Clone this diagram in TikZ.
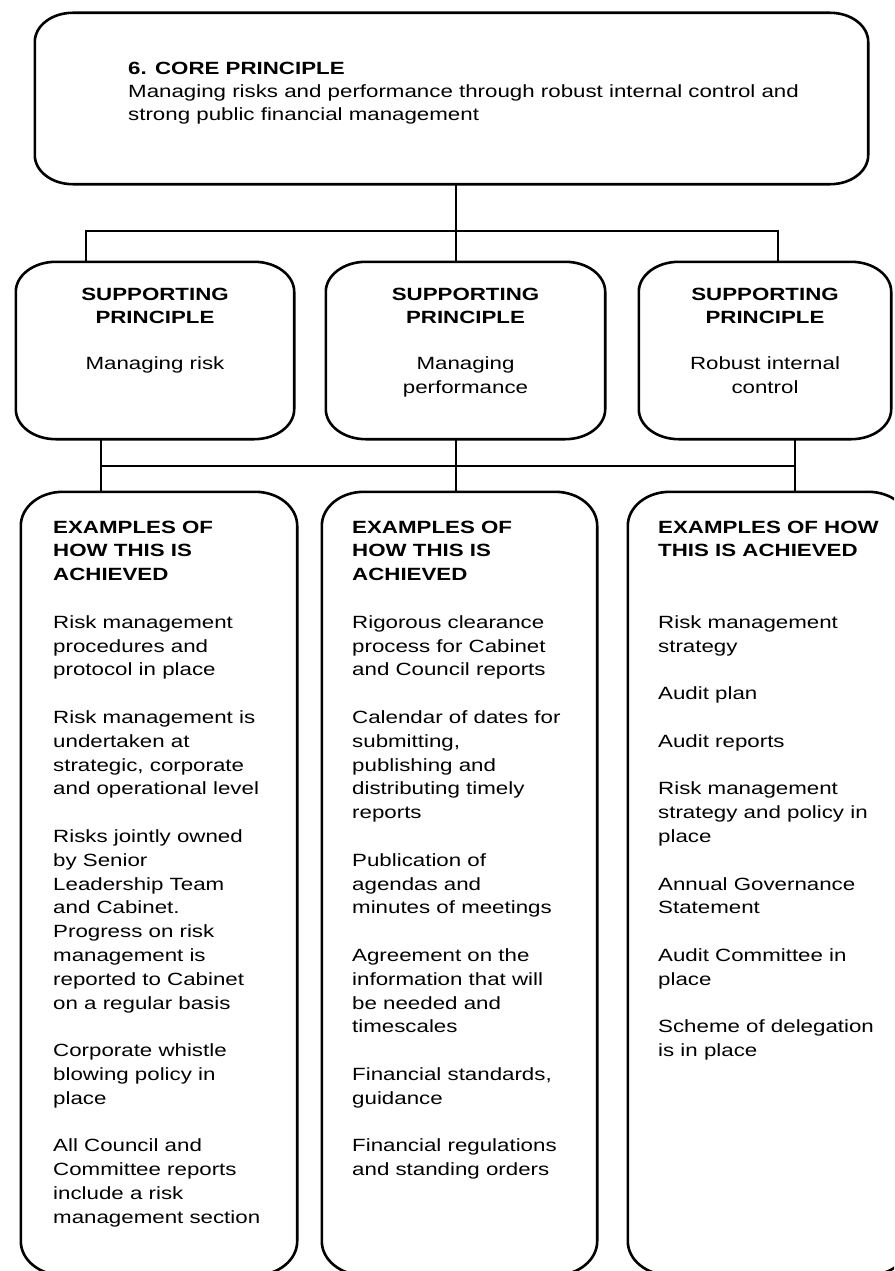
\documentclass[tikz,border=0pt]{standalone}
\usepackage{fontspec}
\setmainfont{Liberation Sans}[FakeStretch=1.26]

% rounded frame with elliptic corners around a named node
\newcommand\roundframe[3]{%
  \draw[frame] ([xshift=#2]#1.north west) -- ([xshift=-#2]#1.north east)
    arc[start angle=90,end angle=0,x radius=#2,y radius=#3]
    -- ([yshift=#3]#1.south east)
    arc[start angle=0,end angle=-90,x radius=#2,y radius=#3]
    -- ([xshift=#2]#1.south west)
    arc[start angle=-90,end angle=-180,x radius=#2,y radius=#3]
    -- ([yshift=-#3]#1.north west)
    arc[start angle=180,end angle=90,x radius=#2,y radius=#3]
    -- cycle;}

\begin{document}
\begin{tikzpicture}[x=1pt,y=-1pt,
  area/.style={rectangle, draw=none, inner sep=0pt},
  frame/.style={draw=black, line width=2.6pt},
  link/.style={draw=black, line width=1.2pt},
  txt/.style={inner sep=0pt, text=black,
    font=\fontsize{17.7pt}{23.3pt}\selectfont},
  coltxt/.style={txt, anchor=base west,
    font=\fontsize{17.7pt}{23.8pt}\selectfont}]

\useasboundingbox (0,0) rectangle (894,1271);
\clip (0,0) rectangle (894,1271);

% box areas
\node[area, minimum width=833pt, minimum height=171pt] (core) at (451.5,98.5) {};
\node[area, minimum width=278pt, minimum height=177pt] (sp1) at (155,350.5) {};
\node[area, minimum width=279pt, minimum height=177pt] (sp2) at (465.5,350.5) {};
\node[area, minimum width=252pt, minimum height=177pt] (sp3) at (765,350.5) {};
\node[area, minimum width=276pt, minimum height=783pt] (ex1) at (159,883.5) {};
\node[area, minimum width=275pt, minimum height=783pt] (ex2) at (459.5,883.5) {};
\node[area, minimum width=282pt, minimum height=783pt] (ex3) at (769,883.5) {};

% frames
\roundframe{core}{38pt}{29pt}
\roundframe{sp1}{40pt}{30pt}
\roundframe{sp2}{40pt}{30pt}
\roundframe{sp3}{40pt}{30pt}
\roundframe{ex1}{42pt}{34pt}
\roundframe{ex2}{42pt}{34pt}
\roundframe{ex3}{42pt}{34pt}

% connectors: core principle to supporting principles
\coordinate (trunk) at (456,231);
\coordinate (busAL) at (86,231);
\coordinate (busAR) at (778,231);
\draw[link] (core.south -| trunk) -- (sp2.north -| trunk);
\draw[link] (sp1.north -| busAL) -- (busAL) -- (busAR) -- (sp3.north -| busAR);

% connectors: supporting principles to examples
\coordinate (busBL) at (101,466);
\coordinate (busBM) at (456,466);
\coordinate (busBR) at (795,466);
\draw[link] (sp1.south -| busBL) -- (ex1.north -| busBL);
\draw[link] (sp2.south -| busBM) -- (ex2.north -| busBM);
\draw[link] (sp3.south -| busBR) -- (ex3.north -| busBR);
\draw[link] (busBL) -- (busBR);

% core principle text
\node[txt, anchor=base west, font=\fontsize{17.7pt}{23pt}\selectfont] (coretext) at (128,75) {\begin{tabular}[t]{@{}l@{}}
\textbf{6. CORE PRINCIPLE}\\
Managing risks and performance through robust internal control and\\
strong public financial management
\end{tabular}};

% supporting principle texts
\node[txt, anchor=base] (sp1text) at (155,300) {\begin{tabular}[t]{@{}c@{}}
\textbf{SUPPORTING}\\ \textbf{PRINCIPLE}\\[23.3pt]
Managing risk
\end{tabular}};
\node[txt, anchor=base] (sp2text) at (465.5,300) {\begin{tabular}[t]{@{}c@{}}
\textbf{SUPPORTING}\\ \textbf{PRINCIPLE}\\[23.3pt]
Managing\\ performance
\end{tabular}};
\node[txt, anchor=base] (sp3text) at (765,300) {\begin{tabular}[t]{@{}c@{}}
\textbf{SUPPORTING}\\ \textbf{PRINCIPLE}\\[23.3pt]
Robust internal\\ control
\end{tabular}};

% examples texts
\node[coltxt] (ex1text) at (53,533) {\begin{tabular}[t]{@{}l@{}}
\textbf{EXAMPLES OF}\\ \textbf{HOW THIS IS}\\ \textbf{ACHIEVED}\\[23.8pt]
Risk management\\ procedures and\\ protocol in place\\[23.8pt]
Risk management is\\ undertaken at\\ strategic, corporate\\ and operational level\\[23.8pt]
Risks jointly owned\\ by Senior\\ Leadership Team\\ and Cabinet.\\ Progress on risk\\ management is\\ reported to Cabinet\\ on a regular basis\\[23.8pt]
Corporate whistle\\ blowing policy in\\ place\\[23.8pt]
All Council and\\ Committee reports\\ include a risk\\ management section
\end{tabular}};

\node[coltxt] (ex2text) at (352,533) {\begin{tabular}[t]{@{}l@{}}
\textbf{EXAMPLES OF}\\ \textbf{HOW THIS IS}\\ \textbf{ACHIEVED}\\[23.8pt]
Rigorous clearance\\ process for Cabinet\\ and Council reports\\[23.8pt]
Calendar of dates for\\ submitting,\\ publishing and\\ distributing timely\\ reports\\[23.8pt]
Publication of\\ agendas and\\ minutes of meetings\\[23.8pt]
Agreement on the\\ information that will\\ be needed and\\ timescales\\[23.8pt]
Financial standards,\\ guidance\\[23.8pt]
Financial regulations\\ and standing orders
\end{tabular}};

\node[coltxt] (ex3text) at (658,533) {\begin{tabular}[t]{@{}l@{}}
\textbf{EXAMPLES OF HOW}\\ \textbf{THIS IS ACHIEVED}\\[47.6pt]
Risk management\\ strategy\\[23.8pt]
Audit plan\\[23.8pt]
Audit reports\\[23.8pt]
Risk management\\ strategy and policy in\\ place\\[23.8pt]
Annual Governance\\ Statement\\[23.8pt]
Audit Committee in\\ place\\[23.8pt]
Scheme of delegation\\ is in place
\end{tabular}};

\end{tikzpicture}
\end{document}
